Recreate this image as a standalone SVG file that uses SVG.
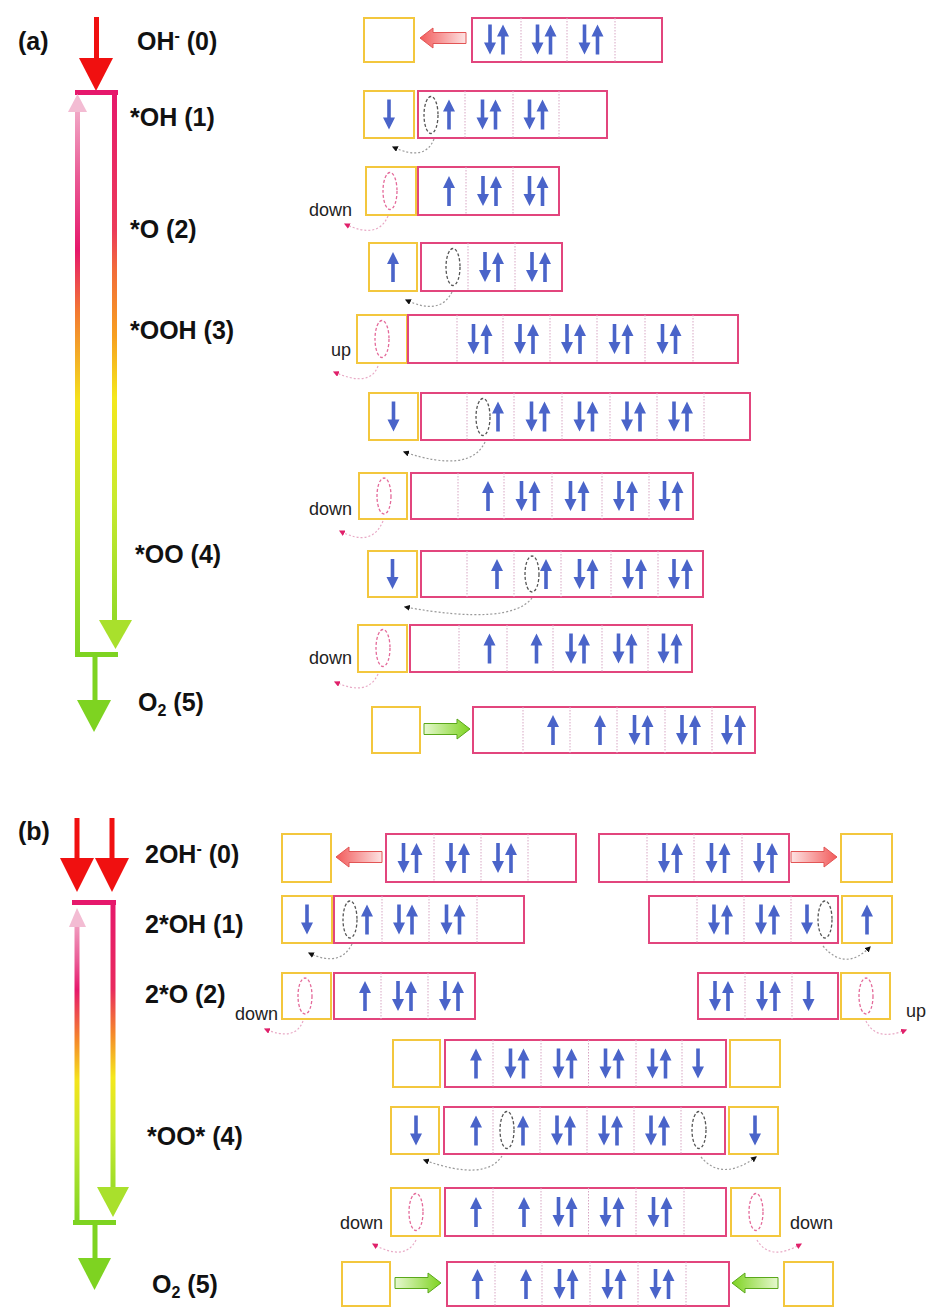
<svg xmlns="http://www.w3.org/2000/svg" width="927" height="1308" viewBox="0 0 927 1308">
<style>
.yb{fill:#fff;stroke:#f3c73e;stroke-width:2}
.pb{fill:#fff;stroke:#e2457d;stroke-width:2}
.dv{stroke:#d7a6c3;stroke-width:1;stroke-dasharray:1.5 1.5}
.el{fill:none;stroke:#555;stroke-width:1.3;stroke-dasharray:3 2}
.ep{fill:none;stroke:#e46a9a;stroke-width:1.3;stroke-dasharray:3 2}
.cv{fill:none;stroke:#9a9a9a;stroke-width:1.2;stroke-dasharray:2 2;marker-end:url(#mk)}
.cp{fill:none;stroke:#e8a9c5;stroke-width:1.2;stroke-dasharray:2 2;marker-end:url(#mp)}
.lb{font-family:"Liberation Sans",Arial,sans-serif;font-weight:bold;font-size:25px;fill:#111}
.sm{font-family:"Liberation Sans",Arial,sans-serif;font-size:18px;fill:#222}
.e{fill:#4a64c9}
</style>
<defs>
<path id="u" d="M-1.8,15V-3H-6L0,-15L6,-3H1.8V15Z"/>
<path id="d" d="M-1.8,-15V3H-6L0,15L6,3H1.8V-15Z"/>
<path id="blk" d="M0,0L13,-10L13,-5.5L46,-5.5L46,5.5L13,5.5L13,10Z"/>
<linearGradient id="gRed" x1="0" y1="0" x2="1" y2="0"><stop offset="0" stop-color="#f25a5a"/><stop offset="1" stop-color="#fde3e3"/></linearGradient>
<linearGradient id="gGrn" x1="0" y1="0" x2="1" y2="0"><stop offset="0" stop-color="#7ed321"/><stop offset="1" stop-color="#e6f8cf"/></linearGradient>
<linearGradient id="gRA" gradientUnits="userSpaceOnUse" x1="0" y1="90" x2="0" y2="650"><stop offset="0" stop-color="#e6186c"/><stop offset="0.25" stop-color="#ec3a5a"/><stop offset="0.32" stop-color="#f26b3a"/><stop offset="0.44" stop-color="#f7a020"/><stop offset="0.55" stop-color="#f4e81c"/><stop offset="0.73" stop-color="#c9ea2e"/><stop offset="1" stop-color="#86d626"/></linearGradient>
<linearGradient id="gLA" gradientUnits="userSpaceOnUse" x1="0" y1="93" x2="0" y2="655"><stop offset="0" stop-color="#f3bcd3"/><stop offset="0.15" stop-color="#ea5a95"/><stop offset="0.28" stop-color="#e6186c"/><stop offset="0.39" stop-color="#f37a32"/><stop offset="0.55" stop-color="#f4e41c"/><stop offset="0.76" stop-color="#b8e62c"/><stop offset="1" stop-color="#7fd424"/></linearGradient>
<linearGradient id="gRB" gradientUnits="userSpaceOnUse" x1="0" y1="900" x2="0" y2="1217"><stop offset="0" stop-color="#e6186c"/><stop offset="0.28" stop-color="#e92a5e"/><stop offset="0.42" stop-color="#f5882a"/><stop offset="0.56" stop-color="#f4e81c"/><stop offset="0.73" stop-color="#c9ea2e"/><stop offset="1" stop-color="#86d626"/></linearGradient>
<linearGradient id="gLB" gradientUnits="userSpaceOnUse" x1="0" y1="908" x2="0" y2="1222"><stop offset="0" stop-color="#f3bcd3"/><stop offset="0.17" stop-color="#ea5a95"/><stop offset="0.26" stop-color="#e6186c"/><stop offset="0.42" stop-color="#f5882a"/><stop offset="0.55" stop-color="#f4e41c"/><stop offset="0.74" stop-color="#c2e82e"/><stop offset="1" stop-color="#7fd424"/></linearGradient>
<marker id="mk" viewBox="0 0 10 10" refX="8" refY="5" markerWidth="5" markerHeight="5" orient="auto"><path d="M0,0L10,5L0,10Z" fill="#111"/></marker>
<marker id="mp" viewBox="0 0 10 10" refX="8" refY="5" markerWidth="5" markerHeight="5" orient="auto"><path d="M0,0L10,5L0,10Z" fill="#e0206a"/></marker>
</defs>
<rect width="927" height="1308" fill="#fff"/>

<g id="scheme-a">
<rect x="94" y="17" width="5" height="43" fill="#f01010"/>
<polygon points="79,58 113,58 96,91" fill="#f01010"/>
<rect x="75" y="90" width="43" height="5" fill="#e6186c"/>
<rect x="112" y="90" width="5" height="532" fill="url(#gRA)"/>
<polygon points="99,620 132,620 115.5,649" fill="#a9e02c"/>
<rect x="75" y="110" width="5" height="547" fill="url(#gLA)"/>
<polygon points="68,112 87,112 77.5,94" fill="#f3bcd3"/>
<rect x="75" y="652" width="43" height="5" fill="#7ed321"/>
<rect x="92.5" y="657" width="5" height="45" fill="#7ed321"/>
<polygon points="77,700 111,700 94,732" fill="#7ed321"/>
<text class="lb" x="18" y="50">(a)</text>
<text class="lb" x="137" y="50">OH<tspan font-size="16" dy="-9">-</tspan><tspan dy="9"> (0)</tspan></text>
<text class="lb" x="130" y="126">*OH (1)</text>
<text class="lb" x="130" y="238">*O (2)</text>
<text class="lb" x="130" y="339">*OOH (3)</text>
<text class="lb" x="135" y="563">*OO (4)</text>
<text class="lb" x="138" y="711">O<tspan font-size="16" dy="5">2</tspan><tspan dy="-5"> (5)</tspan></text>
</g>

<g id="scheme-b">
<rect x="74.5" y="818" width="5" height="42" fill="#f01010"/>
<rect x="109.5" y="818" width="5" height="42" fill="#f01010"/>
<polygon points="60,858 94,858 77,892" fill="#f01010"/>
<polygon points="95,858 129,858 112,892" fill="#f01010"/>
<rect x="72" y="900" width="44" height="5" fill="#e6186c"/>
<rect x="110.5" y="900" width="5" height="289" fill="url(#gRB)"/>
<polygon points="97,1187 129,1187 113,1217" fill="#a9e02c"/>
<rect x="74.5" y="925" width="5" height="299" fill="url(#gLB)"/>
<polygon points="69,927 86,927 77,908" fill="#f3bcd3"/>
<rect x="73" y="1220" width="43" height="5" fill="#7ed321"/>
<rect x="92.5" y="1224" width="5" height="36" fill="#7ed321"/>
<polygon points="78,1258 111,1258 94.5,1290" fill="#7ed321"/>
<text class="lb" x="18" y="840">(b)</text>
<text class="lb" x="145" y="863">2OH<tspan font-size="16" dy="-9">-</tspan><tspan dy="9"> (0)</tspan></text>
<text class="lb" x="145" y="933">2*OH (1)</text>
<text class="lb" x="145" y="1003">2*O (2)</text>
<text class="lb" x="147" y="1145">*OO* (4)</text>
<text class="lb" x="152" y="1293">O<tspan font-size="16" dy="5">2</tspan><tspan dy="-5"> (5)</tspan></text>
</g>

<g id="a-row1">
<rect class="yb" x="364" y="18" width="50" height="44"/>
<rect class="pb" x="472" y="18" width="190" height="44"/>
<path class="dv" d="M521,18V62M567,18V62M615,18V62"/>
<g class="e"><use href="#d" x="490" y="39.5"/><use href="#u" x="503" y="39.5"/><use href="#d" x="537.5" y="39.5"/><use href="#u" x="550.5" y="39.5"/><use href="#d" x="584.5" y="39.5"/><use href="#u" x="597.5" y="39.5"/></g>
</g>
<g id="a-row2">
<rect class="yb" x="364" y="91" width="50" height="47"/>
<rect class="pb" x="418" y="91" width="189" height="47"/>
<path class="dv" d="M465,91V138M513,91V138M559,91V138"/>
<ellipse class="el" cx="431" cy="115" rx="7" ry="18.5"/>
<g class="e"><use href="#d" x="389" y="114.5"/><use href="#u" x="449" y="114.5"/><use href="#d" x="482.5" y="114.5"/><use href="#u" x="495.5" y="114.5"/><use href="#d" x="529.5" y="114.5"/><use href="#u" x="542.5" y="114.5"/></g>
</g>
<g id="a-row3">
<rect class="yb" x="366" y="167" width="50" height="48"/>
<rect class="pb" x="418" y="167" width="141" height="48"/>
<path class="dv" d="M466,167V215M513,167V215"/>
<ellipse class="ep" cx="390" cy="191" rx="7" ry="18.5"/>
<g class="e"><use href="#u" x="449" y="191"/><use href="#d" x="483" y="191"/><use href="#u" x="496" y="191"/><use href="#d" x="529.5" y="191"/><use href="#u" x="542.5" y="191"/></g>
<text class="sm" x="309" y="216">down</text>
</g>
<g id="a-row4">
<rect class="yb" x="369" y="243" width="48" height="48"/>
<rect class="pb" x="421" y="243" width="141" height="48"/>
<path class="dv" d="M468,243V291M515,243V291"/>
<ellipse class="el" cx="453" cy="267" rx="7" ry="18.5"/>
<g class="e"><use href="#u" x="393" y="267"/><use href="#d" x="485" y="267"/><use href="#u" x="498" y="267"/><use href="#d" x="532" y="267"/><use href="#u" x="545" y="267"/></g>
</g>
<g id="a-row5">
<rect class="yb" x="357" y="315" width="50" height="48"/>
<rect class="pb" x="408" y="315" width="330" height="48"/>
<path class="dv" d="M457,315V363M503,315V363M550,315V363M597,315V363M645,315V363M693,315V363"/>
<ellipse class="ep" cx="382" cy="339" rx="7" ry="18.5"/>
<g class="e"><use href="#d" x="473.5" y="339"/><use href="#u" x="486.5" y="339"/><use href="#d" x="520" y="339"/><use href="#u" x="533" y="339"/><use href="#d" x="567" y="339"/><use href="#u" x="580" y="339"/><use href="#d" x="614.5" y="339"/><use href="#u" x="627.5" y="339"/><use href="#d" x="662.5" y="339"/><use href="#u" x="675.5" y="339"/></g>
<text class="sm" x="331" y="356">up</text>
</g>
<g id="a-row6">
<rect class="yb" x="369" y="393" width="49" height="47"/>
<rect class="pb" x="421" y="393" width="329" height="47"/>
<path class="dv" d="M467,393V440M514,393V440M562,393V440M610,393V440M657,393V440M704,393V440"/>
<ellipse class="el" cx="483" cy="417" rx="7" ry="18.5"/>
<g class="e"><use href="#d" x="393.5" y="416.5"/><use href="#u" x="498" y="416.5"/><use href="#d" x="531.5" y="416.5"/><use href="#u" x="544.5" y="416.5"/><use href="#d" x="579.5" y="416.5"/><use href="#u" x="592.5" y="416.5"/><use href="#d" x="627" y="416.5"/><use href="#u" x="640" y="416.5"/><use href="#d" x="674" y="416.5"/><use href="#u" x="687" y="416.5"/></g>
</g>
<g id="a-row7">
<rect class="yb" x="359" y="473" width="48" height="46"/>
<rect class="pb" x="411" y="473" width="282" height="46"/>
<path class="dv" d="M458,473V519M504,473V519M552,473V519M602,473V519M649,473V519"/>
<ellipse class="ep" cx="384" cy="496" rx="7" ry="18"/>
<g class="e"><use href="#u" x="488" y="496"/><use href="#d" x="521.5" y="496"/><use href="#u" x="534.5" y="496"/><use href="#d" x="570.5" y="496"/><use href="#u" x="583.5" y="496"/><use href="#d" x="619" y="496"/><use href="#u" x="632" y="496"/><use href="#d" x="664.5" y="496"/><use href="#u" x="677.5" y="496"/></g>
<text class="sm" x="309" y="515">down</text>
</g>
<g id="a-row8">
<rect class="yb" x="368" y="551" width="49" height="46"/>
<rect class="pb" x="421" y="551" width="282" height="46"/>
<path class="dv" d="M467,551V597M514,551V597M561,551V597M611,551V597M658,551V597"/>
<ellipse class="el" cx="532" cy="574" rx="7" ry="18"/>
<g class="e"><use href="#d" x="392.5" y="574"/><use href="#u" x="497" y="574"/><use href="#u" x="546" y="574"/><use href="#d" x="579.5" y="574"/><use href="#u" x="592.5" y="574"/><use href="#d" x="628" y="574"/><use href="#u" x="641" y="574"/><use href="#d" x="674" y="574"/><use href="#u" x="687" y="574"/></g>
</g>
<g id="a-row9">
<rect class="yb" x="358" y="625" width="49" height="47"/>
<rect class="pb" x="410" y="625" width="282" height="47"/>
<path class="dv" d="M459,625V672M507,625V672M553,625V672M602,625V672M648,625V672"/>
<ellipse class="ep" cx="383" cy="648" rx="7" ry="18.5"/>
<g class="e"><use href="#u" x="489.5" y="648.5"/><use href="#u" x="536.5" y="648.5"/><use href="#d" x="571" y="648.5"/><use href="#u" x="584" y="648.5"/><use href="#d" x="618.5" y="648.5"/><use href="#u" x="631.5" y="648.5"/><use href="#d" x="663.5" y="648.5"/><use href="#u" x="676.5" y="648.5"/></g>
<text class="sm" x="309" y="664">down</text>
</g>
<g id="a-row10">
<rect class="yb" x="372" y="707" width="48" height="46"/>
<rect class="pb" x="473" y="707" width="282" height="46"/>
<path class="dv" d="M523,707V753M570,707V753M617,707V753M665,707V753M712,707V753"/>
<g class="e"><use href="#u" x="553" y="730"/><use href="#u" x="600" y="730"/><use href="#d" x="634.5" y="730"/><use href="#u" x="647.5" y="730"/><use href="#d" x="682" y="730"/><use href="#u" x="695" y="730"/><use href="#d" x="727" y="730"/><use href="#u" x="740" y="730"/></g>
</g>

<g id="b-row1">
<rect class="yb" x="282" y="834" width="49" height="48"/>
<rect class="pb" x="386" y="834" width="190" height="48"/>
<path class="dv" d="M434,834V882M481,834V882M528,834V882"/>
<rect class="pb" x="599" y="834" width="190" height="48"/>
<path class="dv" d="M647,834V882M694,834V882M742,834V882"/>
<rect class="yb" x="841" y="834" width="51" height="48"/>
<g class="e"><use href="#d" x="403.5" y="858"/><use href="#u" x="416.5" y="858"/><use href="#d" x="451" y="858"/><use href="#u" x="464" y="858"/><use href="#d" x="498" y="858"/><use href="#u" x="511" y="858"/><use href="#d" x="664" y="858"/><use href="#u" x="677" y="858"/><use href="#d" x="711.5" y="858"/><use href="#u" x="724.5" y="858"/><use href="#d" x="759" y="858"/><use href="#u" x="772" y="858"/></g>
</g>
<g id="b-row2">
<rect class="yb" x="282" y="896" width="50" height="47"/>
<rect class="pb" x="334" y="896" width="190" height="47"/>
<path class="dv" d="M382,896V943M429,896V943M477,896V943"/>
<ellipse class="el" cx="350" cy="919.5" rx="7" ry="18.5"/>
<rect class="pb" x="649" y="896" width="189" height="47"/>
<path class="dv" d="M697,896V943M744,896V943M791,896V943"/>
<ellipse class="el" cx="825" cy="919.5" rx="7" ry="18.5"/>
<rect class="yb" x="842" y="896" width="50" height="47"/>
<g class="e"><use href="#d" x="307" y="919.5"/><use href="#u" x="367" y="919.5"/><use href="#d" x="399" y="919.5"/><use href="#u" x="412" y="919.5"/><use href="#d" x="446.5" y="919.5"/><use href="#u" x="459.5" y="919.5"/><use href="#d" x="714" y="919.5"/><use href="#u" x="727" y="919.5"/><use href="#d" x="761" y="919.5"/><use href="#u" x="774" y="919.5"/><use href="#d" x="807" y="919.5"/><use href="#u" x="867" y="919.5"/></g>
</g>
<g id="b-row3">
<rect class="yb" x="282" y="973" width="49" height="46"/>
<ellipse class="ep" cx="305" cy="996" rx="7" ry="18"/>
<rect class="pb" x="334" y="973" width="141" height="46"/>
<path class="dv" d="M381,973V1019M428,973V1019"/>
<rect class="pb" x="698" y="973" width="140" height="46"/>
<path class="dv" d="M745,973V1019M792,973V1019"/>
<rect class="yb" x="841" y="973" width="49" height="46"/>
<ellipse class="ep" cx="866" cy="996" rx="7" ry="18"/>
<g class="e"><use href="#u" x="365" y="996"/><use href="#d" x="398" y="996"/><use href="#u" x="411" y="996"/><use href="#d" x="445" y="996"/><use href="#u" x="458" y="996"/><use href="#d" x="715" y="996"/><use href="#u" x="728" y="996"/><use href="#d" x="762" y="996"/><use href="#u" x="775" y="996"/><use href="#d" x="808.5" y="996"/></g>
<text class="sm" x="235" y="1020">down</text>
<text class="sm" x="906" y="1017">up</text>
</g>
<g id="b-row4">
<rect class="yb" x="393" y="1040" width="47" height="47"/>
<rect class="pb" x="445" y="1040" width="281" height="47"/>
<path class="dv" d="M493,1040V1087M541,1040V1087M588.5,1040V1087M636,1040V1087M682,1040V1087"/>
<rect class="yb" x="730" y="1040" width="50" height="47"/>
<g class="e"><use href="#u" x="476" y="1063.5"/><use href="#d" x="510.5" y="1063.5"/><use href="#u" x="523.5" y="1063.5"/><use href="#d" x="558.5" y="1063.5"/><use href="#u" x="571.5" y="1063.5"/><use href="#d" x="605.5" y="1063.5"/><use href="#u" x="618.5" y="1063.5"/><use href="#d" x="652.5" y="1063.5"/><use href="#u" x="665.5" y="1063.5"/><use href="#d" x="698" y="1063.5"/></g>
</g>
<g id="b-row5">
<rect class="yb" x="391" y="1107" width="48" height="47"/>
<rect class="pb" x="444" y="1107" width="281" height="47"/>
<path class="dv" d="M493,1107V1154M540,1107V1154M587,1107V1154M634,1107V1154M681,1107V1154"/>
<ellipse class="el" cx="507" cy="1130" rx="7" ry="18.5"/>
<ellipse class="el" cx="699" cy="1130" rx="7" ry="18.5"/>
<rect class="yb" x="729" y="1107" width="49" height="47"/>
<g class="e"><use href="#d" x="416" y="1130.5"/><use href="#u" x="476" y="1130.5"/><use href="#u" x="523" y="1130.5"/><use href="#d" x="557" y="1130.5"/><use href="#u" x="570" y="1130.5"/><use href="#d" x="604" y="1130.5"/><use href="#u" x="617" y="1130.5"/><use href="#d" x="651" y="1130.5"/><use href="#u" x="664" y="1130.5"/><use href="#d" x="755" y="1130.5"/></g>
</g>
<g id="b-row6">
<rect class="yb" x="391" y="1188" width="49" height="48"/>
<ellipse class="ep" cx="416" cy="1212" rx="7" ry="18.5"/>
<rect class="pb" x="445" y="1188" width="281" height="48"/>
<path class="dv" d="M493,1188V1236M541,1188V1236M588.5,1188V1236M636,1188V1236M684,1188V1236"/>
<rect class="yb" x="731" y="1188" width="49" height="48"/>
<ellipse class="ep" cx="756" cy="1212" rx="7" ry="18.5"/>
<g class="e"><use href="#u" x="476" y="1212"/><use href="#u" x="524" y="1212"/><use href="#d" x="558.5" y="1212"/><use href="#u" x="571.5" y="1212"/><use href="#d" x="605.5" y="1212"/><use href="#u" x="618.5" y="1212"/><use href="#d" x="653.5" y="1212"/><use href="#u" x="666.5" y="1212"/></g>
<text class="sm" x="340" y="1229">down</text>
<text class="sm" x="790" y="1229">down</text>
</g>
<g id="b-row7">
<rect class="yb" x="342" y="1262" width="48" height="44"/>
<rect class="pb" x="447" y="1262" width="282" height="44"/>
<path class="dv" d="M495,1262V1306M542,1262V1306M590,1262V1306M638,1262V1306M686,1262V1306"/>
<rect class="yb" x="784" y="1262" width="49" height="44"/>
<g class="e"><use href="#u" x="477.5" y="1284"/><use href="#u" x="526" y="1284"/><use href="#d" x="559.5" y="1284"/><use href="#u" x="572.5" y="1284"/><use href="#d" x="607.5" y="1284"/><use href="#u" x="620.5" y="1284"/><use href="#d" x="655.5" y="1284"/><use href="#u" x="668.5" y="1284"/></g>
</g>

<g id="connectors">
<use href="#blk" transform="translate(420,38)" fill="url(#gRed)" stroke="#e25555" stroke-width="1"/>
<use href="#blk" transform="translate(470,729) scale(-1,1)" fill="url(#gGrn)" stroke="#5aa81a" stroke-width="1"/>
<use href="#blk" transform="translate(336,857)" fill="url(#gRed)" stroke="#e25555" stroke-width="1"/>
<use href="#blk" transform="translate(837,857) scale(-1,1)" fill="url(#gRed)" stroke="#e25555" stroke-width="1"/>
<use href="#blk" transform="translate(441,1283) scale(-1,1)" fill="url(#gGrn)" stroke="#5aa81a" stroke-width="1"/>
<use href="#blk" transform="translate(732,1283)" fill="url(#gGrn)" stroke="#5aa81a" stroke-width="1"/>
<path class="cv" d="M434,139Q425,162 393,147"/>
<path class="cv" d="M452,292Q440,316 406,300"/>
<path class="cv" d="M485,442Q470,474 404,452"/>
<path class="cv" d="M532,598Q510,626 405,607"/>
<path class="cv" d="M352,944Q340,968 309,953"/>
<path class="cv" d="M823,946Q845,972 870,947"/>
<path class="cv" d="M502,1156Q485,1182 424,1160"/>
<path class="cv" d="M701,1157Q722,1182 756,1157"/>
<path class="cp" d="M388,216Q378,240 345,224"/>
<path class="cp" d="M378,366Q370,388 334,372"/>
<path class="cp" d="M383,521Q372,548 340,531"/>
<path class="cp" d="M378,674Q368,697 335,682"/>
<path class="cp" d="M303,1021Q295,1042 265,1029"/>
<path class="cp" d="M866,1021Q876,1042 906,1030"/>
<path class="cp" d="M416,1240Q405,1262 373,1244"/>
<path class="cp" d="M757,1240Q770,1262 801,1244"/>
</g>
</svg>
